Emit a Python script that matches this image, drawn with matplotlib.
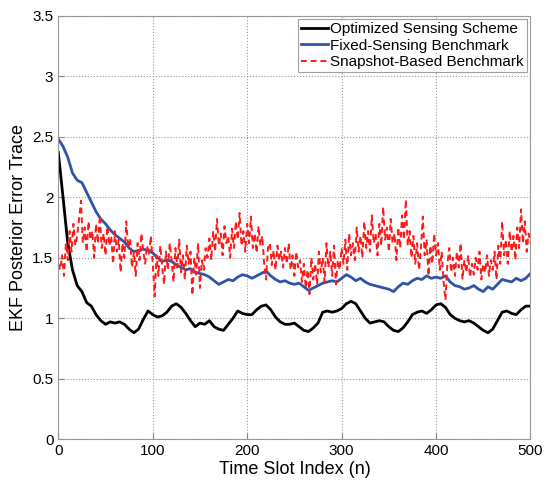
import numpy as np
import matplotlib.pyplot as plt

plt.rcParams['font.family'] = ['Liberation Sans', 'DejaVu Sans']

# time slot index grids
n_smooth = np.arange(0, 501, 5)
n_snap = np.arange(0, 501, 2)

optimized = [
    2.37, 2.00, 1.62, 1.40, 1.27, 1.22, 1.13, 1.10, 1.03, 0.98,
    0.95, 0.97, 0.96, 0.97, 0.95, 0.91, 0.88, 0.91, 0.99, 1.06,
    1.03, 1.01, 1.02, 1.05, 1.10, 1.12, 1.09, 1.04, 0.98, 0.93,
    0.96, 0.95, 0.98, 0.93, 0.91, 0.90, 0.95, 1.00, 1.06, 1.04,
    1.03, 1.03, 1.07, 1.10, 1.11, 1.07, 1.01, 0.97, 0.95, 0.95,
    0.96, 0.93, 0.90, 0.89, 0.92, 0.96, 1.05, 1.06, 1.05, 1.06,
    1.08, 1.12, 1.14, 1.12, 1.06, 1.00, 0.96, 0.97, 0.98, 0.97,
    0.93, 0.90, 0.89, 0.92, 0.97, 1.03, 1.05, 1.06, 1.04, 1.07,
    1.11, 1.12, 1.09, 1.03, 1.00, 0.98, 0.97, 0.98, 0.96, 0.93,
    0.90, 0.88, 0.91, 0.98, 1.05, 1.06, 1.04, 1.03, 1.07, 1.10,
    1.10,
]

fixed = [
    2.48, 2.42, 2.33, 2.20, 2.14, 2.12, 2.04, 1.96, 1.88, 1.82,
    1.78, 1.73, 1.69, 1.66, 1.63, 1.58, 1.55, 1.56, 1.57, 1.56,
    1.54, 1.50, 1.47, 1.48, 1.47, 1.44, 1.42, 1.40, 1.41, 1.38,
    1.37, 1.36, 1.34, 1.31, 1.28, 1.30, 1.32, 1.31, 1.34, 1.36,
    1.35, 1.33, 1.35, 1.37, 1.39, 1.35, 1.32, 1.30, 1.31, 1.29,
    1.28, 1.29, 1.26, 1.23, 1.25, 1.27, 1.29, 1.30, 1.31, 1.30,
    1.33, 1.36, 1.34, 1.31, 1.33, 1.30, 1.28, 1.27, 1.26, 1.25,
    1.24, 1.22, 1.26, 1.29, 1.28, 1.31, 1.33, 1.32, 1.35, 1.33,
    1.34, 1.33, 1.35, 1.30, 1.27, 1.26, 1.24, 1.25, 1.27, 1.24,
    1.22, 1.26, 1.24, 1.28, 1.32, 1.31, 1.30, 1.33, 1.31, 1.33,
    1.37,
]

snapshot = [
    1.45, 1.40, 1.52, 1.35, 1.62, 1.48, 1.72, 1.55, 1.78, 1.60,
    1.68, 1.82, 1.97, 1.62, 1.75, 1.55, 1.80, 1.65, 1.72, 1.50,
    1.78, 1.62, 1.85, 1.58, 1.70, 1.52, 1.76, 1.60, 1.68, 1.45,
    1.72, 1.55, 1.65, 1.38, 1.62, 1.50, 1.80, 1.58, 1.66, 1.42,
    1.55, 1.35, 1.62, 1.48, 1.70, 1.55, 1.45, 1.60, 1.52, 1.68,
    1.45, 1.18, 1.52, 1.35, 1.60, 1.42, 1.28, 1.55, 1.40, 1.62,
    1.48, 1.30, 1.58, 1.42, 1.65, 1.38, 1.52, 1.32, 1.60, 1.45,
    1.55, 1.19, 1.50, 1.36, 1.62, 1.25, 1.48, 1.40, 1.58, 1.50,
    1.66, 1.48, 1.72, 1.55, 1.82, 1.60, 1.70, 1.52, 1.76, 1.62,
    1.68, 1.50, 1.74, 1.58, 1.80, 1.65, 1.87, 1.60, 1.72, 1.55,
    1.78, 1.62, 1.84, 1.58, 1.70, 1.54, 1.76, 1.60, 1.68, 1.45,
    1.32, 1.58, 1.62, 1.44, 1.56, 1.40, 1.60, 1.48, 1.55, 1.42,
    1.58, 1.45, 1.62, 1.40, 1.52, 1.35, 1.55, 1.42, 1.48, 1.30,
    1.45, 1.25, 1.40, 1.20, 1.50, 1.32, 1.45, 1.28, 1.55, 1.38,
    1.50, 1.30, 1.62, 1.42, 1.55, 1.35, 1.60, 1.28, 1.48, 1.40,
    1.58, 1.45, 1.65, 1.40, 1.70, 1.52, 1.62, 1.48, 1.75, 1.55,
    1.68, 1.50, 1.80, 1.58, 1.72, 1.55, 1.85, 1.62, 1.70, 1.52,
    1.78, 1.60, 1.92, 1.65, 1.75, 1.55, 1.82, 1.62, 1.70, 1.48,
    1.75, 1.58, 1.85, 1.65, 1.98, 1.60, 1.72, 1.50, 1.68, 1.45,
    1.62, 1.40, 1.58, 1.84, 1.52, 1.65, 1.35, 1.60, 1.45, 1.70,
    1.52, 1.62, 1.40, 1.55, 1.30, 1.15, 1.45, 1.58, 1.38, 1.50,
    1.35, 1.55, 1.42, 1.62, 1.32, 1.48, 1.38, 1.52, 1.34, 1.45,
    1.36, 1.50, 1.40, 1.55, 1.32, 1.45, 1.38, 1.52, 1.35, 1.48,
    1.40, 1.55, 1.32, 1.60, 1.45, 1.80, 1.52, 1.65, 1.45, 1.72,
    1.55, 1.68, 1.48, 1.75, 1.58, 1.90, 1.62, 1.80, 1.55, 1.70,
    1.62,
]

fig = plt.figure(figsize=(5.5, 4.88), dpi=100)
ax = fig.add_axes([0.106, 0.0998, 0.8585, 0.8682])

ax.plot(n_smooth, optimized, color='black', lw=2.0, label='Optimized Sensing Scheme')
ax.plot(n_smooth, fixed, color='#2f54a6', lw=2.0, label='Fixed-Sensing Benchmark')
ax.plot(n_snap, snapshot, color='#ff1a1a', lw=1.4, ls=(0, (3, 2)),
        label='Snapshot-Based Benchmark')

ax.set_xlim(0, 500)
ax.set_ylim(0, 3.5)
ax.set_xticks(np.arange(0, 501, 100))
ax.set_yticks(np.arange(0, 3.51, 0.5))
ax.set_yticklabels(['0', '0.5', '1', '1.5', '2', '2.5', '3', '3.5'])
ax.tick_params(direction='in', labelsize=11, length=4, color='#888888')
ax.grid(True, ls=':', color='#999999', lw=0.8)
for sp in ax.spines.values():
    sp.set_color('#999999')

ax.set_xlabel('Time Slot Index (n)', fontsize=13, labelpad=2)
ax.set_ylabel('EKF Posterior Error Trace', fontsize=13, labelpad=4)

leg = ax.legend(loc='upper right', fontsize=11, handlelength=1.8, handletextpad=0.1,
                borderpad=0.2, labelspacing=0.15, fancybox=False, borderaxespad=0.25)
leg.get_frame().set_edgecolor('#888888')
leg.get_frame().set_linewidth(0.8)

fig.savefig('out.png', dpi=100)
